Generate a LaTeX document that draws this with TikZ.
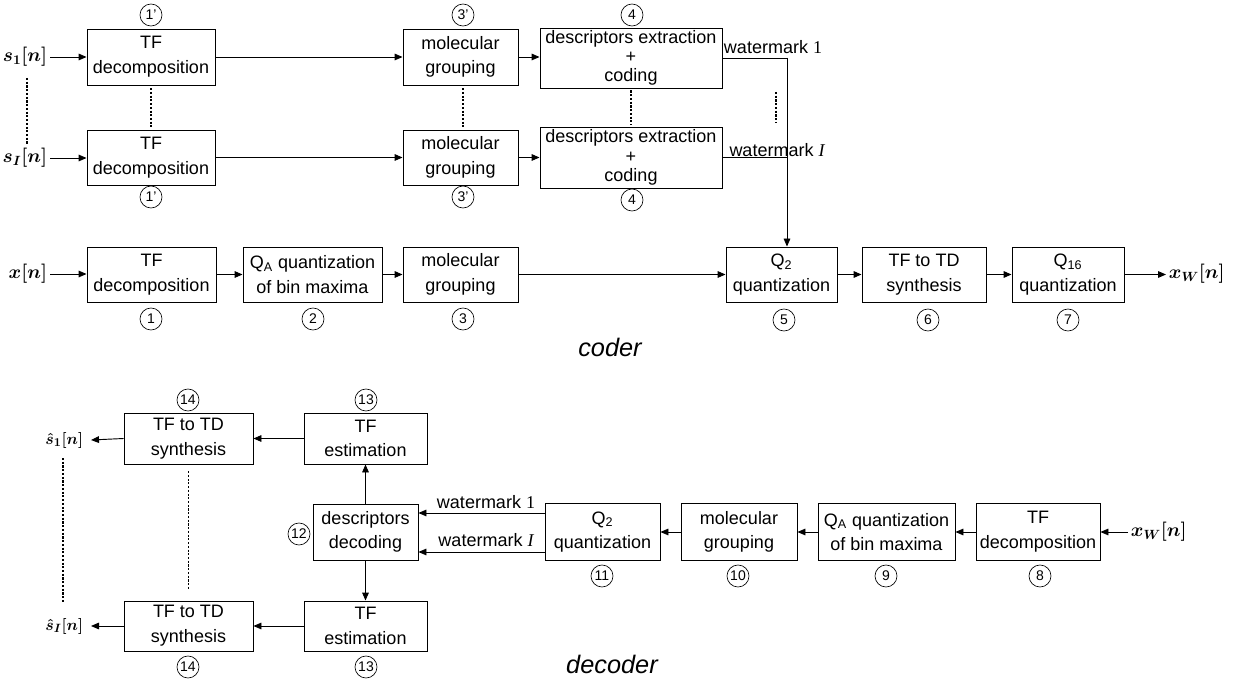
\documentclass[tikz,border=0pt]{standalone}
\usepackage{amsmath}
\usepackage{bm}
\usepackage[no-math]{fontspec}
\setmainfont{Liberation Sans}
\newfontfamily\tms{Liberation Serif}
\usetikzlibrary{arrows.meta}
\begin{document}
\begin{tikzpicture}[x=0.75pt,y=-0.75pt,
  blk/.style={draw, line width=0.7pt, inner sep=0pt, align=center, font=\fontsize{13.5}{18.5}\selectfont},
  bx/.style 2 args={blk, minimum width=#1*0.75pt, minimum height=#2*0.75pt},
  tri/.style={blk, font=\fontsize{13.5}{14.5}\selectfont},
  num/.style={draw, circle, line width=0.5pt, minimum size=16.5pt, inner sep=0pt, font=\fontsize{10.5}{10.5}\selectfont},
  arr/.style={-{Triangle[length=6pt,width=5pt]}, line width=0.7pt},
  ln/.style={line width=0.7pt},
  dots/.style={line width=1.3pt, dash pattern=on 1.6pt off 1.2pt},
  sig/.style={inner sep=2pt, font=\fontsize{14.5}{14.5}\selectfont},
  hsig/.style={inner sep=2pt, font=\fontsize{12.5}{12.5}\selectfont},
  wm/.style={inner sep=0pt, font=\fontsize{13.5}{16}\selectfont},
  title/.style={inner sep=0pt, font=\fontsize{19}{19}\selectfont\itshape}]
\useasboundingbox (0,0) rectangle (1233,681);

% ---------------- coder: branch 1 and I
\node[bx={128}{56}] (tfa) at (151,57) {TF\\decomposition};
\node[bx={115}{56}] (mga) at (460.5,57) {molecular\\grouping};
\node[tri, minimum width=182*0.75pt, minimum height=60*0.75pt] (dea) at (631,58) {descriptors extraction\\+\\coding};
\node[bx={128}{55}] (tfb) at (151,157.5) {TF\\decomposition};
\node[bx={115}{55}] (mgb) at (460.5,157.5) {molecular\\grouping};
\node[tri, minimum width=182*0.75pt, minimum height=61*0.75pt] (deb) at (631,157.5) {descriptors extraction\\+\\coding};

\node[num] (n1a) at (151,15) {1'};
\node[num] (n3a) at (463,15) {3'};
\node[num] (n4a) at (632,15) {4};
\node[num] (n1b) at (151,197) {1'};
\node[num] (n3b) at (463,197) {3'};
\node[num] (n4b) at (632,200) {4};

\node[sig, anchor=east] (s1) at (50,57) {$\bm{s_1[n]}$};
\node[sig, anchor=east] (sI) at (50,158) {$\bm{s_I[n]}$};

\draw[arr] (s1.east) -- (s1.east -| tfa.west);
\draw[arr] (sI.east) -- (sI.east -| tfb.west);
\draw[arr] (tfa) -- (mga);
\draw[arr] (tfb) -- (mgb);
\draw[arr] (mga.east) -- (mga.east -| dea.west);
\draw[arr] (mgb) -- (deb);

\draw[dots] (27,78) -- (27,145);
\draw[dots, shorten <=2pt, shorten >=2pt] (tfa) -- (tfb);
\draw[dots, shorten <=2pt, shorten >=2pt] (mga.south -| 463,0) -- (mgb.north -| 463,0);
\draw[dots, shorten <=1.5pt, shorten >=1.5pt] (dea) -- (deb);
\draw[dots] (776,92) -- (776,123);

% ---------------- coder: main row
\node[bx={129}{55}] (tf1) at (151.5,274.5) {TF\\decomposition};
\node[bx={139}{55}] (qa) at (312.5,274.5) {Q\textsubscript{A} quantization\\of bin maxima};
\node[bx={115}{55}] (mg) at (460.5,274.5) {molecular\\grouping};
\node[bx={111}{55}] (q2) at (781.5,274.5) {Q\textsubscript{2}\\quantization};
\node[bx={124}{55}] (syn) at (924,274.5) {TF to TD\\synthesis};
\node[bx={112}{55}] (q16) at (1068,274.5) {Q\textsubscript{16}\\quantization};

\node[num] (n1) at (151,319) {1};
\node[num] (n2) at (313,319) {2};
\node[num] (n3) at (463,319) {3};
\node[num] (n5) at (784,320) {5};
\node[num] (n6) at (928,320) {6};
\node[num] (n7) at (1068,320) {7};

\node[sig, anchor=east] (xn) at (50,274) {$\bm{x[n]}$};
\node[sig, anchor=west] (xw) at (1166,274) {$\bm{x_W[n]}$};

\draw[arr] (xn.east) -- (xn.east -| tf1.west);
\draw[arr] (tf1) -- (qa);
\draw[arr] (qa) -- (mg);
\draw[arr] (mg) -- (q2);
\draw[arr] (q2) -- (syn);
\draw[arr] (syn) -- (q16);
\draw[arr] (q16.east) -- (q16.east -| xw.west);

\coordinate (wj1) at (787,58);
\coordinate (wj2) at (787,157.5);
\draw[ln] (dea.east) -- (wj1);
\draw[ln] (deb.east) -- (wj2);
\draw[arr] (wj1) -- (wj1 |- q2.north);
\node[wm] (wm1) at (773,47) {watermark {\tms 1}};
\node[wm] (wm2) at (777,150) {watermark {\tms\itshape I}};

\node[title] (coder) at (610,347) {coder};

% ---------------- decoder
\node[bx={129}{51}] (syna) at (188.5,438.5) {TF to TD\\synthesis};
\node[bx={123}{51}] (esta) at (365.5,438.5) {TF\\estimation};
\node[bx={105}{56}] (dec) at (365.5,532) {descriptors\\decoding};
\node[bx={129}{50}] (synb) at (188.5,626) {TF to TD\\synthesis};
\node[bx={123}{50}] (estb) at (365.5,626) {TF\\estimation};
\node[bx={115}{57}] (q2d) at (602.5,532) {Q\textsubscript{2}\\quantization};
\node[bx={116}{57}] (mgd) at (739,532) {molecular\\grouping};
\node[bx={137}{57}] (qad) at (886.5,532) {Q\textsubscript{A} quantization\\of bin maxima};
\node[bx={124}{57}] (tfd) at (1038,532) {TF\\decomposition};

\node[num] (n14a) at (188,400) {14};
\node[num] (n13a) at (366,400) {13};
\node[num] (n12) at (299,534) {12};
\node[num] (n14b) at (188,667) {14};
\node[num] (n13b) at (366,667) {13};
\node[num] (n11) at (602,576) {11};
\node[num] (n10) at (738,576) {10};
\node[num] (n9) at (886,576) {9};
\node[num] (n8) at (1040,576) {8};

\node[sig, anchor=west] (xwd) at (1128,532) {$\bm{x_W[n]}$};
\node[hsig, anchor=east] (sh1) at (86,440) {$\bm{\hat{s}_1[n]}$};
\node[hsig, anchor=east] (shI) at (86,626) {$\bm{\hat{s}_I[n]}$};
\coordinate (h1) at (91,440);
\coordinate (hI) at (91,626);

\draw[arr] (xwd.west) -- (xwd.west -| tfd.east);
\draw[arr] (tfd) -- (qad);
\draw[arr] (qad) -- (mgd);
\draw[arr] (mgd) -- (q2d);
\draw[arr] ([yshift=14.25pt]q2d.west) -- ([yshift=14.25pt]q2d.west -| dec.east);
\draw[arr] ([yshift=-15pt]q2d.west) -- ([yshift=-15pt]q2d.west -| dec.east);
\node[wm] (wm1d) at (486,502) {watermark {\tms 1}};
\node[wm] (wm2d) at (486,540) {watermark {\tms\itshape I}};
\draw[arr] (dec) -- (esta);
\draw[arr] (dec) -- (estb);
\draw[arr] (esta) -- (syna);
\draw[arr] (estb) -- (synb);
\draw[arr] (syna.west) -- (h1);
\draw[arr] (synb.west) -- (hI);

\draw[dots] (63,458) -- (63,603);
\draw[dots, shorten <=5pt, shorten >=9pt] (syna) -- (synb);

\node[title] (decoder) at (612,664) {decoder};
\end{tikzpicture}
\end{document}
